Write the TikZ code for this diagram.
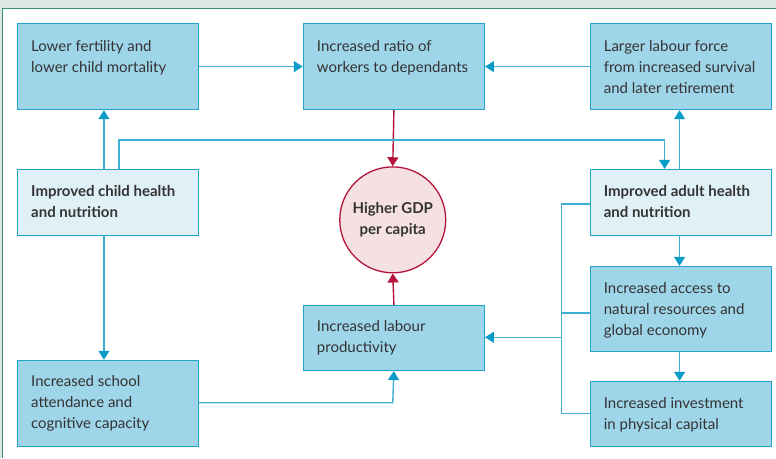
\documentclass[tikz,border=0pt]{standalone}
\usepackage{fontspec}
\setmainfont{Lato}
\usetikzlibrary{arrows.meta}
\definecolor{boxfill}{HTML}{9FD5E8}
\definecolor{boxline}{HTML}{23A3CA}
\definecolor{lightfill}{HTML}{E0F0F7}
\definecolor{conn}{HTML}{3DB0D4}
\definecolor{tipc}{HTML}{0A9CC8}
\definecolor{circfill}{HTML}{F5E1E1}
\definecolor{crim}{HTML}{B4143C}
\definecolor{txt}{HTML}{333333}
\definecolor{bgstrip}{HTML}{DBE8E1}
\definecolor{frame}{HTML}{3C8F68}
\newcommand{\tb}[1]{\parbox[t]{170pt}{\raggedright #1}}
\tikzset{
  box/.style={draw=boxline, line width=1.3pt, fill=boxfill, minimum width=181pt, anchor=north west, inner sep=0pt},
  lbox/.style={box, fill=lightfill},
  lbl/.style={anchor=base west, text=txt, font=\fontsize{15}{21}\selectfont, inner sep=0pt},
  blbl/.style={lbl, font=\fontsize{15}{21}\selectfont\bfseries},
  conn/.style={draw=conn, line width=1.4pt},
  arr/.style={conn, -{Triangle[width=11pt,length=9pt,color=tipc]}},
  carr/.style={draw=crim, line width=1.4pt, -{Triangle[width=11pt,length=9pt]}},
}
\begin{document}
\begin{tikzpicture}[x=1pt,y=-1pt]
\fill[bgstrip] (0,0) rectangle (776,458);
\fill[white] (3,8.5) rectangle (776,458);
\draw[frame, line width=1pt] (3,458) -- (3,8.5) -- (776,8.5);
\useasboundingbox (0,0) rectangle (776,458);

% boxes
\node[box, minimum height=86pt] (A) at (17,23) {};
\node[box, minimum height=86pt] (B) at (303,23) {};
\node[box, minimum height=86pt] (C) at (590,23) {};
\node[lbox, minimum height=66pt] (D) at (17,169) {};
\node[lbox, minimum height=66pt] (E) at (590,169) {};
\node[box, minimum height=65pt] (F) at (303,305) {};
\node[box, minimum height=86pt] (G) at (17,360) {};
\node[box, minimum height=85pt] (H) at (590,266) {};
\node[box, minimum height=65pt] (I) at (590,381) {};
\node[circle, draw=crim, line width=1.3pt, fill=circfill, minimum size=106pt, inner sep=0pt] (K) at (393,220) {};

% texts
\node[lbl] (At) at ([xshift=14pt,yshift=-29pt]A.north west) {\tb{Lower fertility and\\lower child mortality}};
\node[lbl] (Bt) at ([xshift=14pt,yshift=-29pt]B.north west) {\tb{Increased ratio of\\workers to dependants}};
\node[lbl] (Ct) at ([xshift=14pt,yshift=-29pt]C.north west) {\tb{Larger labour force\\from increased survival\\and later retirement}};
\node[blbl] (Dt) at ([xshift=14pt,yshift=-28pt]D.north west) {\tb{Improved child health\\and nutrition}};
\node[blbl] (Et) at ([xshift=14pt,yshift=-28pt]E.north west) {\tb{Improved adult health\\and nutrition}};
\node[lbl] (Ft) at ([xshift=14pt,yshift=-27pt]F.north west) {\tb{Increased labour\\productivity}};
\node[lbl] (Gt) at ([xshift=14pt,yshift=-27pt]G.north west) {\tb{Increased school\\attendance and\\cognitive capacity}};
\node[lbl] (Ht) at ([xshift=14pt,yshift=-28pt]H.north west) {\tb{Increased access to\\natural resources and\\global economy}};
\node[lbl] (It) at ([xshift=14pt,yshift=-28pt]I.north west) {\tb{Increased investment\\in physical capital}};
\node[font=\fontsize{15}{21}\selectfont\bfseries, text=txt, align=center, inner sep=0pt] (Kt) at (K.center) {Higher GDP\\per capita};

% connectors
\coordinate (e1) at (562,204);
\coordinate (e2) at (562,414);
\coordinate (e3) at (562,313);
\coordinate (e4) at (562,337.5);
\coordinate (c1) at (119,140);
\coordinate (c2) at (665,140);
\draw[arr] (A.east) -- (B.west);
\draw[arr] (C.west) -- (B.east);
\draw[carr] (B.south) -- (K.north);
\draw[carr] (F.north) -- (K.south);
\draw[arr] (D.north -| 104,0) -- (A.south -| 104,0);
\draw[arr] (D.north -| c1) -- (c1) -- (c2) -- (E.north -| c2);
\draw[arr] (E.north -| 680,0) -- (C.south -| 680,0);
\draw[arr] (D.south -| 104,0) -- (G.north -| 104,0);
\draw[arr] (G.east |- 0,403) -- (393,403) -- (F.south);
\draw[conn] (E.west |- e1) -- (e1) -- (e2) -- (I.west |- e2);
\draw[conn] (H.west |- e3) -- (e3);
\draw[arr] (e4) -- (F.east |- e4);
\draw[arr] (E.south -| 680,0) -- (H.north -| 680,0);
\draw[arr] (H.south -| 680,0) -- (I.north -| 680,0);
\end{tikzpicture}
\end{document}
